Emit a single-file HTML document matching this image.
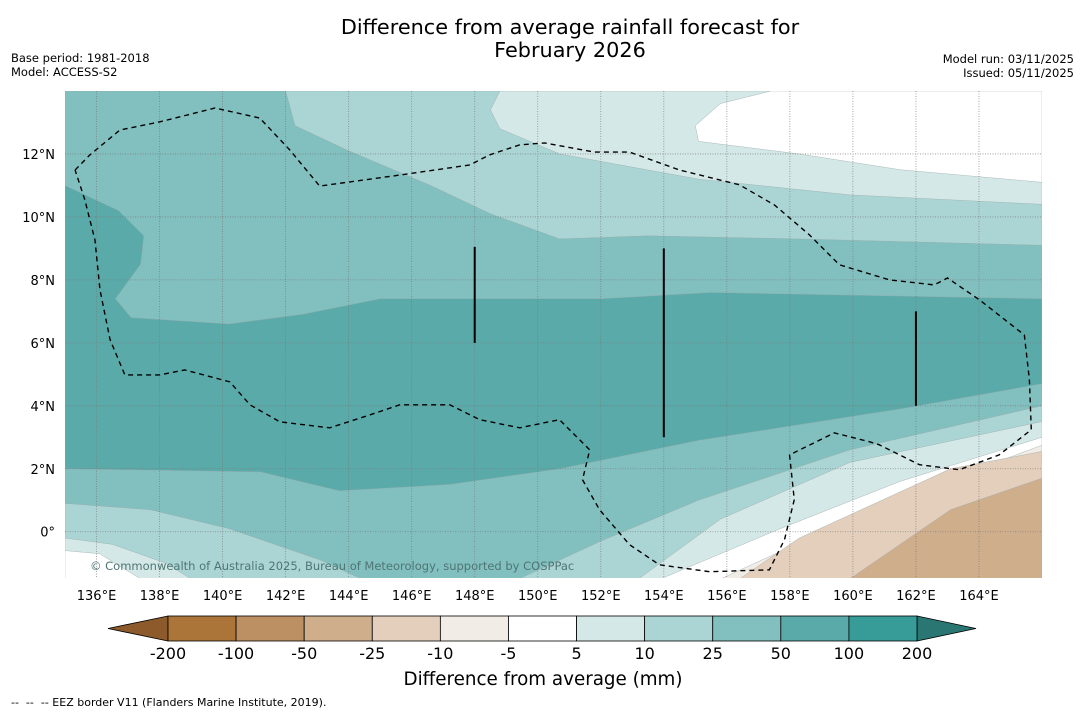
<!DOCTYPE html>
<html><head><meta charset="utf-8"><style>
body{margin:0;background:#fff;width:1085px;height:713px;overflow:hidden;font-family:"DejaVu Sans","Liberation Sans",sans-serif}
svg{display:block}
</style></head><body>
<svg id="c" width="1085" height="713" xmlns="http://www.w3.org/2000/svg">
<text x="570" y="34" text-anchor="middle" font-size="20.8">Difference from average rainfall forecast for</text>
<text x="570" y="57" text-anchor="middle" font-size="20.8">February 2026</text>
<text x="11" y="62" font-size="11.5">Base period: 1981-2018</text>
<text x="11" y="76" font-size="11.5">Model: ACCESS-S2</text>
<text x="1074" y="63" font-size="11.5" text-anchor="end">Model run: 03/11/2025</text>
<text x="1074" y="77" font-size="11.5" text-anchor="end">Issued: 05/11/2025</text>
<g id="map"></g>
<g id="cbar"></g>
<text x="543" y="685" text-anchor="middle" font-size="18.3">Difference from average (mm)</text>
<text x="11" y="706" font-size="11" xml:space="preserve">--  --  -- EEZ border V11 (Flanders Marine Institute, 2019).</text>
</svg>
<script>
const NS="http://www.w3.org/2000/svg";
const levels=["-200","-100","-50","-25","-10","-5","5","10","25","50","100","200"];
const classColors=["#ab7439","#bd9064","#cfae8c","#e3cfbb","#f2ece6","#ffffff","#d4e8e7","#abd5d4","#82bfbf","#5aaaaa","#379b98"];
const extendColors=["#8c5a2b","#2a7673"];
const lonTicks=[136,138,140,142,144,146,148,150,152,154,156,158,160,162,164];
const latTicks=[0,2,4,6,8,10,12];
// filled contour regions [colorClassIndex, lon/lat ring]
const regions=[
 [8,[[135,14],[166,14],[166,-1.5],[135,-1.5]]],
 [7,[[142.0,14],[142.3,12.9],[144.0,12.1],[146.6,11.0],[148.5,10.1],[150.7,9.3],[153.5,9.4],[158.3,9.3],[166,9.1],[166,14]]],
 [6,[[148.8,14],[148.5,13.4],[148.8,12.8],[150.7,12.0],[155.1,11.2],[159.9,10.7],[166,10.4],[166,14]]],
 [5,[[157.4,14],[155.8,13.6],[155.0,12.9],[155.1,12.4],[158.3,12.0],[161.5,11.5],[166,11.1],[166,14]]],
 [9,[[135,11.0],[136.7,10.2],[137.5,9.4],[137.4,8.5],[136.6,7.4],[137.1,6.8],[140.2,6.6],[142.5,6.9],[145.0,7.4],[148.8,7.4],[152.0,7.4],[155.5,7.6],[166,7.4],[166,4.7],[161.5,3.9],[155.1,2.9],[150.7,2.0],[147.2,1.5],[143.7,1.3],[141.2,1.9],[135,2.0]]],
 [7,[[135,0.9],[137.7,0.7],[140.2,0.1],[143.1,-0.9],[144.4,-1.5],[135,-1.5]]],
 [6,[[135,-0.2],[136.5,-0.4],[138.2,-1.0],[139,-1.5],[135,-1.5]]],
 [5,[[135,-0.6],[136.1,-0.7],[137.4,-1.5],[135,-1.5]]],
 [7,[[166,4.0],[159.9,2.6],[155.1,1.0],[152,-0.3],[149.4,-1.5],[166,-1.5]]],
 [6,[[166,3.5],[159.9,2.2],[155.8,0.4],[153.2,-1.5],[166,-1.5]]],
 [5,[[166,3.0],[161.5,1.6],[157.7,0.1],[153.9,-1.5],[166,-1.5]]],
 [4,[[166,2.75],[160.8,0.8],[155.8,-1.5],[166,-1.5]]],
 [3,[[166,2.55],[163.1,2.0],[158.3,-0.2],[156.4,-1.5],[166,-1.5]]],
 [2,[[166,1.7],[163.1,0.7],[159.9,-1.5],[166,-1.5]]]
];
const eezLon=[135.32,135.79,136.74,138.01,139.76,141.18,142.13,143.08,145.62,147.84,148.47,149.43,150.22,151.80,152.91,154.50,156.40,157.51,158.62,159.57,161.16,162.58,163.00,164.01,165.44,165.60,165.66,164.64,163.38,162.11,160.84,160.52,159.41,157.99,158.14,157.83,157.35,155.45,153.86,152.91,151.96,151.42,151.65,151.17,150.69,149.43,148.16,147.21,145.62,144.67,143.40,141.82,140.87,140.23,138.80,138.01,136.90,136.43,136.11,135.95,135.63,135.32];
const eezLat=[11.49,11.97,12.76,13.02,13.46,13.14,12.13,10.98,11.33,11.65,11.97,12.29,12.35,12.06,12.06,11.49,11.02,10.38,9.43,8.48,8.00,7.84,8.06,7.37,6.25,4.83,3.24,2.44,1.97,2.13,2.76,2.86,3.14,2.44,1.02,-0.25,-1.21,-1.27,-1.05,-0.41,0.70,1.65,2.60,3.08,3.56,3.30,3.56,4.03,4.03,3.71,3.30,3.49,4.03,4.76,5.14,4.98,4.98,6.10,7.68,9.27,10.54,11.49];
const segLon=[148,154,162];
const segLat1=[9.05,9.0,7.0];
const segLat2=[6.0,3.0,4.0];

const X0=65,X1=1042,Y0=91,Y1=578,LON0=135,LON1=166,LAT0=14,LAT1=-1.47;
const xs=lon=>X0+(lon-LON0)/(LON1-LON0)*(X1-X0);
const ys=lat=>Y0+(LAT0-lat)/(LAT0-LAT1)*(Y1-Y0);
const map=document.getElementById('map');
function mk(tag,attrs,parent){const e=document.createElementNS(NS,tag);for(const k in attrs)e.setAttribute(k,attrs[k]);(parent||map).appendChild(e);return e;}
const clip=mk('clipPath',{id:'pc'});mk('rect',{x:X0,y:Y0,width:X1-X0,height:Y1-Y0},clip);
const g=mk('g',{'clip-path':'url(#pc)'});
regions.forEach((r,i)=>{
 const p=mk('polygon',{points:r[1].map(q=>xs(q[0])+','+ys(q[1])).join(' '),fill:classColors[r[0]],stroke:'#9aa',"stroke-width":0.4},g);
 
 
});
lonTicks.forEach(l=>{
 const ln=mk('line',{x1:xs(l),x2:xs(l),y1:Y0,y2:Y1,stroke:'#777','stroke-width':0.8,'stroke-dasharray':'1,1.5','stroke-opacity':0.8},g);
 
 
 const t=mk('text',{x:xs(l),y:600,'text-anchor':'middle','font-size':13});t.textContent=l+'°E';
 
 
});
latTicks.forEach(l=>{
 const ln=mk('line',{x1:X0,x2:X1,y1:ys(l),y2:ys(l),stroke:'#777','stroke-width':0.8,'stroke-dasharray':'1,1.5','stroke-opacity':0.8},g);
 
 
 const t=mk('text',{x:55,y:ys(l)+5,'text-anchor':'end','font-size':13});t.textContent=(l===0?'0°':l+'°N');
 
 
});
const eez=mk('polyline',{points:eezLon.map((l,i)=>xs(l)+','+ys(eezLat[i])).join(' '),fill:'none',stroke:'#000','stroke-width':1.4,'stroke-dasharray':'5,4'},g);


segLon.forEach((l,i)=>{
 const s=mk('line',{x1:xs(l),x2:xs(l),y1:ys(segLat1[i]),y2:ys(segLat2[i]),stroke:'#000','stroke-width':2},g);
 
 
});
const cp=mk('text',{x:90,y:570,'font-size':11.5,fill:'#4f7574'},g);cp.textContent='© Commonwealth of Australia 2025, Bureau of Meteorology, supported by COSPPac';


// colorbar
const cb=document.getElementById('cbar');
const CB0=168,CB1=917,CT=616,CBt=641,n=classColors.length,w=(CB1-CB0)/n;
const lt=mk('polygon',{points:`${CB0},${CT} 108,${(CT+CBt)/2} ${CB0},${CBt}`,fill:extendColors[0],stroke:'#000','stroke-width':0.8},cb);


const rt=mk('polygon',{points:`${CB1},${CT} 976,${(CT+CBt)/2} ${CB1},${CBt}`,fill:extendColors[1],stroke:'#000','stroke-width':0.8},cb);


classColors.forEach((c,i)=>{
 const r=mk('rect',{x:CB0+i*w,y:CT,width:w,height:CBt-CT,fill:c,stroke:'#000','stroke-width':0.8},cb);
 
 
});
levels.forEach((l,i)=>{
 const t=mk('text',{x:CB0+i*w,y:659,'text-anchor':'middle','font-size':16},cb);t.textContent=l;
 
 
});
</script>
</body></html>
